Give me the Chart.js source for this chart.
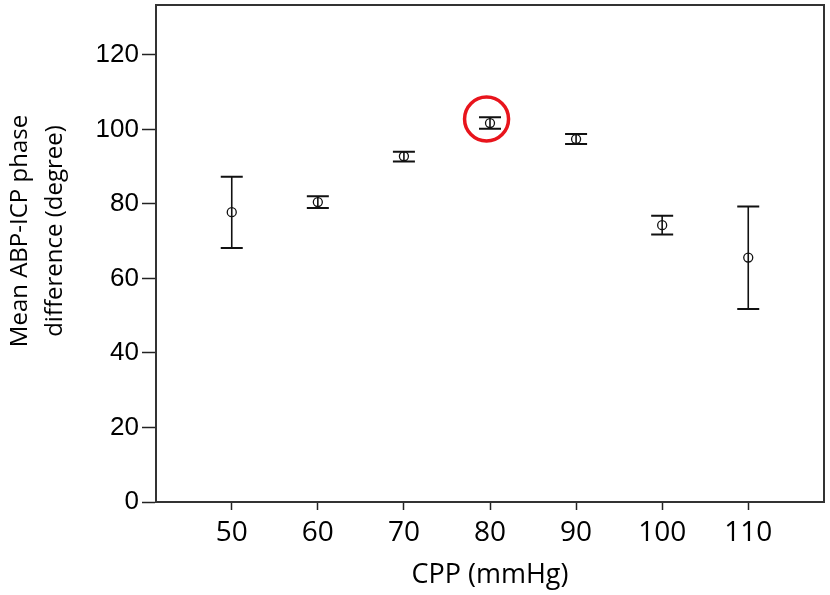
<!DOCTYPE html>
<html>
<head>
<meta charset="utf-8">
<script src="https://cdn.jsdelivr.net/npm/chart.js@4"></script>
<style>
html,body{margin:0;padding:0;background:#fff}
</style>
</head>
<body>
<canvas id="myChart" width="830" height="595"></canvas>
<script>
// CPP levels (mmHg) and mean ABP-ICP phase difference (degree) with error bar ends
var cppLevels = [50, 60, 70, 80, 90, 100, 110];
var meanPhase = [77.8, 80.5, 92.8, 101.7, 97.4, 74.3, 65.6];
var lowerBar  = [68.2, 78.9, 91.4, 100.2, 96.1, 71.8, 51.8];
var upperBar  = [87.3, 82.1, 94.0, 103.3, 98.8, 76.8, 79.3];
var yTicks = [0, 20, 40, 60, 80, 100, 120];
// the red highlight ring
var markX = [79.6];
var markY = [102.8];

var errorBars = {
    id: 'errorBars',
    afterDatasetsDraw: function(chart){
        var ctx = chart.ctx, xs = chart.scales.x, ys = chart.scales.y;
        ctx.save();
        ctx.strokeStyle = '#111';
        for (var i = 0; i < cppLevels.length; i++) {
            var x = xs.getPixelForValue(cppLevels[i]);
            var y1 = ys.getPixelForValue(lowerBar[i]);
            var y2 = ys.getPixelForValue(upperBar[i]);
            ctx.lineWidth = 1.6;
            ctx.beginPath();
            ctx.moveTo(x, y1); ctx.lineTo(x, y2);
            ctx.stroke();
            ctx.lineWidth = 2;
            ctx.beginPath();
            ctx.moveTo(x - 11, y1); ctx.lineTo(x + 11, y1);
            ctx.moveTo(x - 11, y2); ctx.lineTo(x + 11, y2);
            ctx.stroke();
        }
        ctx.restore();
    }
};

var frameAndTitle = {
    id: 'frameAndTitle',
    afterDraw: function(chart){
        var ctx = chart.ctx, a = chart.chartArea;
        ctx.save();
        ctx.strokeStyle = '#333';
        ctx.lineWidth = 2;
        ctx.strokeRect(a.left, a.top, a.right - a.left, a.bottom - a.top);
        // y axis title, two lines
        ctx.fillStyle = '#000';
        ctx.font = '24px "Open Sans"';
        ctx.textAlign = 'center';
        ctx.textBaseline = 'alphabetic';
        ctx.translate(27, 231);
        ctx.rotate(-Math.PI / 2);
        ctx.fillText('Mean ABP-ICP phase', 0, 0);
        ctx.fillText('difference (degree)', 0, 35);
        ctx.restore();
    }
};

function drawChart(){
    new Chart(document.getElementById('myChart'), {
        type: 'scatter',
        data: {
            datasets: [
                {
                    data: cppLevels.map(function(v, i){ return {x: v, y: meanPhase[i]}; }),
                    pointStyle: 'circle',
                    pointRadius: 4.5,
                    borderColor: '#111',
                    backgroundColor: 'rgba(0,0,0,0)',
                    borderWidth: 1.3
                },
                {
                    data: markX.map(function(v, i){ return {x: v, y: markY[i]}; }),
                    pointStyle: 'circle',
                    pointRadius: 22,
                    borderColor: '#e8141c',
                    backgroundColor: 'rgba(0,0,0,0)',
                    borderWidth: 3.5,
                    clip: false
                }
            ]
        },
        options: {
            responsive: false,
            animation: false,
            layout: {autoPadding: false, padding: {left: 0, right: 6, top: 5, bottom: 0}},
            plugins: {legend: {display: false}, tooltip: {enabled: false}},
            scales: {
                x: {
                    type: 'linear',
                    min: 41.2,
                    max: 118.8,
                    afterBuildTicks: function(s){ s.ticks = cppLevels.map(function(v){ return {value: v}; }); },
                    afterFit: function(s){ s.height = 93; s.paddingLeft = 0; s.paddingRight = 0; },
                    grid: {drawOnChartArea: false, drawTicks: true, tickLength: 8, tickColor: '#222', tickWidth: 1.5},
                    border: {color: '#222', width: 2},
                    ticks: {font: {family: 'Open Sans', size: 28}, color: '#000', padding: 6, maxRotation: 0},
                    title: {display: true, text: 'CPP (mmHg)', font: {family: 'Open Sans', size: 27}, color: '#000', padding: {top: 0, bottom: 3}}
                },
                y: {
                    min: 0,
                    max: 133.4,
                    afterBuildTicks: function(s){ s.ticks = yTicks.map(function(v){ return {value: v}; }); },
                    afterFit: function(s){ s.width = 156; s.paddingTop = 0; s.paddingBottom = 0; },
                    grid: {drawOnChartArea: false, drawTicks: true, tickLength: 14, tickColor: '#222', tickWidth: 1.5},
                    border: {color: '#222', width: 2},
                    ticks: {font: {family: 'Liberation Sans', size: 26}, color: '#000', padding: 3}
                }
            }
        },
        plugins: [errorBars, frameAndTitle]
    });
}
drawChart();
</script>
</body>
</html>
